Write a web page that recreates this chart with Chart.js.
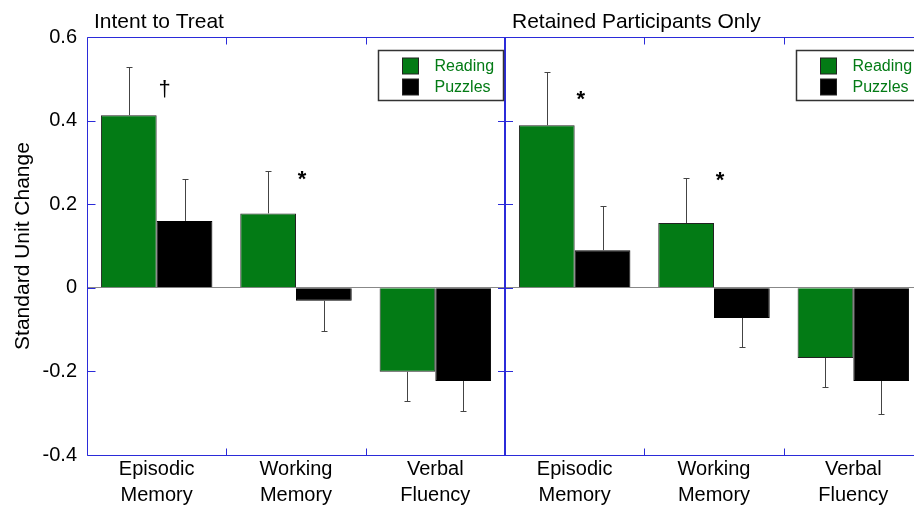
<!DOCTYPE html>
<html>
<head>
<meta charset="utf-8">
<script src="https://cdn.jsdelivr.net/npm/chart.js@4.4.1/dist/chart.umd.min.js"></script>
<style>
    html, body { margin: 0; padding: 0; background: #fff; overflow: hidden; }
    #chartWrapper { width: 930px; height: 507px; }
</style>
</head>
<body>
<div id="chartWrapper"><canvas id="barA" width="930" height="507"></canvas></div>
<script>
// two panels, three outcomes each
let panelTitles = ['Intent to Treat', 'Retained Participants Only']
let outcomes = [['Episodic', 'Memory'], ['Working', 'Memory'], ['Verbal', 'Fluency']]

let readingITT = [0.413, 0.178, -0.201]
let readingITTErr = [0.116, 0.101, 0.070]
let puzzlesITT = [0.160, -0.031, -0.223]
let puzzlesITTErr = [0.100, 0.072, 0.072]

let readingRet = [0.389, 0.155, -0.168]
let readingRetErr = [0.127, 0.107, 0.069]
let puzzlesRet = [0.090, -0.072, -0.223]
let puzzlesRetErr = [0.106, 0.070, 0.080]

// significance marks and the value they sit at
let sigMarks = ['†', '*', '', '*', '*', '']
let sigAt = [0.478, 0.265, null, 0.456, 0.263, null]

let greenColor = '#037b15'
let frameColor = '#2b2bd9'
let fontFamily = '"Liberation Sans", Arial, Helvetica, sans-serif'

let labels = outcomes.concat(outcomes)
let readingVals = readingITT.concat(readingRet)
let readingErr = readingITTErr.concat(readingRetErr)
let puzzlesVals = puzzlesITT.concat(puzzlesRet)
let puzzlesErr = puzzlesITTErr.concat(puzzlesRetErr)

// boundary between category i and i+1 in pixels
function boundaryX(xScale, i) {
    return (xScale.getPixelForValue(i) + xScale.getPixelForValue(i + 1)) / 2
}

let errorBarPlugin = {
    id: 'errorBars',
    afterDatasetsDraw(chart) {
        let ctx = chart.ctx
        let y = chart.scales.y
        ctx.save()
        ctx.strokeStyle = '#444'
        ctx.lineWidth = 1
        chart.data.datasets.forEach((ds, di) => {
            let meta = chart.getDatasetMeta(di)
            meta.data.forEach((bar, j) => {
                let v = ds.data[j]
                let end = v + (v >= 0 ? 1 : -1) * ds.errors[j]
                let x = Math.round(bar.x) + 0.5
                let y0 = y.getPixelForValue(v)
                let y1 = Math.round(y.getPixelForValue(end)) + 0.5
                ctx.beginPath()
                ctx.moveTo(x, y0)
                ctx.lineTo(x, y1)
                ctx.moveTo(x - 3, y1)
                ctx.lineTo(x + 3, y1)
                ctx.stroke()
            })
        })
        ctx.restore()
    }
}

let framePlugin = {
    id: 'frame',
    afterDraw(chart) {
        let ctx = chart.ctx
        let area = chart.chartArea
        let x = chart.scales.x
        let y = chart.scales.y
        let divX = Math.round(boundaryX(x, 2))
        let left = Math.round(area.left) + 0.5
        let top = Math.round(area.top) + 0.5
        let bottom = Math.round(area.bottom) + 0.5

        ctx.save()
        ctx.strokeStyle = frameColor
        ctx.lineWidth = 1
        ctx.beginPath()
        ctx.moveTo(left, top)
        ctx.lineTo(area.right + 20, top)
        ctx.moveTo(left, bottom)
        ctx.lineTo(area.right + 20, bottom)
        ctx.moveTo(left, top)
        ctx.lineTo(left, bottom)
        // y ticks: inward on the left axis, both sides on the divider
        y.ticks.forEach(t => {
            let py = Math.round(y.getPixelForValue(t.value)) + 0.5
            ctx.moveTo(left, py)
            ctx.lineTo(left + 8, py)
            ctx.moveTo(divX - 7, py)
            ctx.lineTo(divX + 8, py)
        })
        // x ticks at the category boundaries, top and bottom
        ;[0, 1, 3, 4].forEach(i => {
            let px = Math.round(boundaryX(x, i)) + 0.5
            ctx.moveTo(px, top)
            ctx.lineTo(px, top + 7)
            ctx.moveTo(px, bottom)
            ctx.lineTo(px, bottom - 7)
        })
        ctx.stroke()

        ctx.lineWidth = 2
        ctx.beginPath()
        ctx.moveTo(divX, top)
        ctx.lineTo(divX, bottom)
        ctx.stroke()

        // panel titles
        let panelLefts = [area.left, divX]
        ctx.fillStyle = '#000'
        ctx.font = '21px ' + fontFamily
        ctx.textAlign = 'left'
        ctx.textBaseline = 'alphabetic'
        panelTitles.forEach((t, i) => {
            ctx.fillText(t, panelLefts[i] + 7, area.top - 9)
        })

        // legends, one per panel
        let panelRights = [divX, area.right]
        let items = [['Reading', greenColor], ['Puzzles', '#000']]
        panelRights.forEach(r => {
            let bx = Math.round(r - 2 - 125) + 0.5
            let by = Math.round(area.top + 13) + 0.5
            ctx.fillStyle = '#fff'
            ctx.fillRect(bx, by, 125, 50)
            ctx.strokeStyle = '#333'
            ctx.lineWidth = 1.5
            ctx.strokeRect(bx, by, 125, 50)
            ctx.lineWidth = 1
            ctx.font = '16px ' + fontFamily
            ctx.textBaseline = 'middle'
            items.forEach((it, k) => {
                let sy = by + 7.5 + k * 21
                ctx.fillStyle = it[1]
                ctx.fillRect(bx + 24, sy, 16, 16)
                ctx.strokeStyle = '#222'
                ctx.strokeRect(bx + 24, sy, 16, 16)
                ctx.fillStyle = greenColor
                ctx.fillText(it[0], bx + 56, sy + 8.5)
            })
        })

        // significance marks
        ctx.fillStyle = '#000'
        ctx.textAlign = 'center'
        sigMarks.forEach((m, i) => {
            if (!m) return
            let px = x.getPixelForValue(i) + 6
            let py = y.getPixelForValue(sigAt[i])
            ctx.textBaseline = 'middle'
            if (m === '*') {
                ctx.font = 'bold 22px ' + fontFamily
                ctx.fillText(m, px, py + 3)
            } else {
                ctx.font = '22px ' + fontFamily
                ctx.fillText(m, px + 2, py + 2)
            }
        })
        ctx.restore()
    }
}

let barOptionSet = {
    responsive: false,
    animation: false,
    layout: {
        padding: { left: 0, right: 7, top: 37, bottom: 0 }
    },
    plugins: {
        legend: { display: false },
        tooltip: { enabled: false }
    },
    scales: {
        x: {
            grid: { display: false },
            border: { display: false },
            ticks: {
                color: '#000',
                padding: -7,
                maxRotation: 0,
                autoSkip: false,
                font: { family: fontFamily, size: 20, lineHeight: 1.3 }
            },
            afterFit(scale) { scale.height = 52 }
        },
        y: {
            min: -0.4,
            max: 0.6,
            border: { display: false },
            grid: {
                drawTicks: false,
                color: (c) => (c.tick && Math.abs(c.tick.value) < 1e-9) ? '#888' : 'rgba(0,0,0,0)'
            },
            ticks: {
                stepSize: 0.2,
                color: '#000',
                padding: 10,
                font: { family: fontFamily, size: 20 },
                callback: (v) => Math.abs(v) < 1e-9 ? '0' : Number(v).toFixed(1)
            },
            title: {
                display: true,
                text: 'Standard Unit Change',
                color: '#000',
                padding: { top: 11, bottom: 0 },
                font: { family: fontFamily, size: 21, lineHeight: 1.2 }
            },
            afterFit(scale) { scale.width = 87 }
        }
    }
}

new Chart(document.getElementById('barA'), {
    type: 'bar',
    data: {
        labels: labels,
        datasets: [
            {
                label: 'Reading',
                data: readingVals,
                errors: readingErr,
                backgroundColor: greenColor,
                borderColor: '#222',
                borderWidth: 1,
                categoryPercentage: 0.8,
                barPercentage: 1.0
            },
            {
                label: 'Puzzles',
                data: puzzlesVals,
                errors: puzzlesErr,
                backgroundColor: '#000',
                borderColor: '#000',
                borderWidth: 1,
                categoryPercentage: 0.8,
                barPercentage: 1.0
            }
        ]
    },
    options: barOptionSet,
    plugins: [errorBarPlugin, framePlugin]
})
</script>
</body>
</html>
